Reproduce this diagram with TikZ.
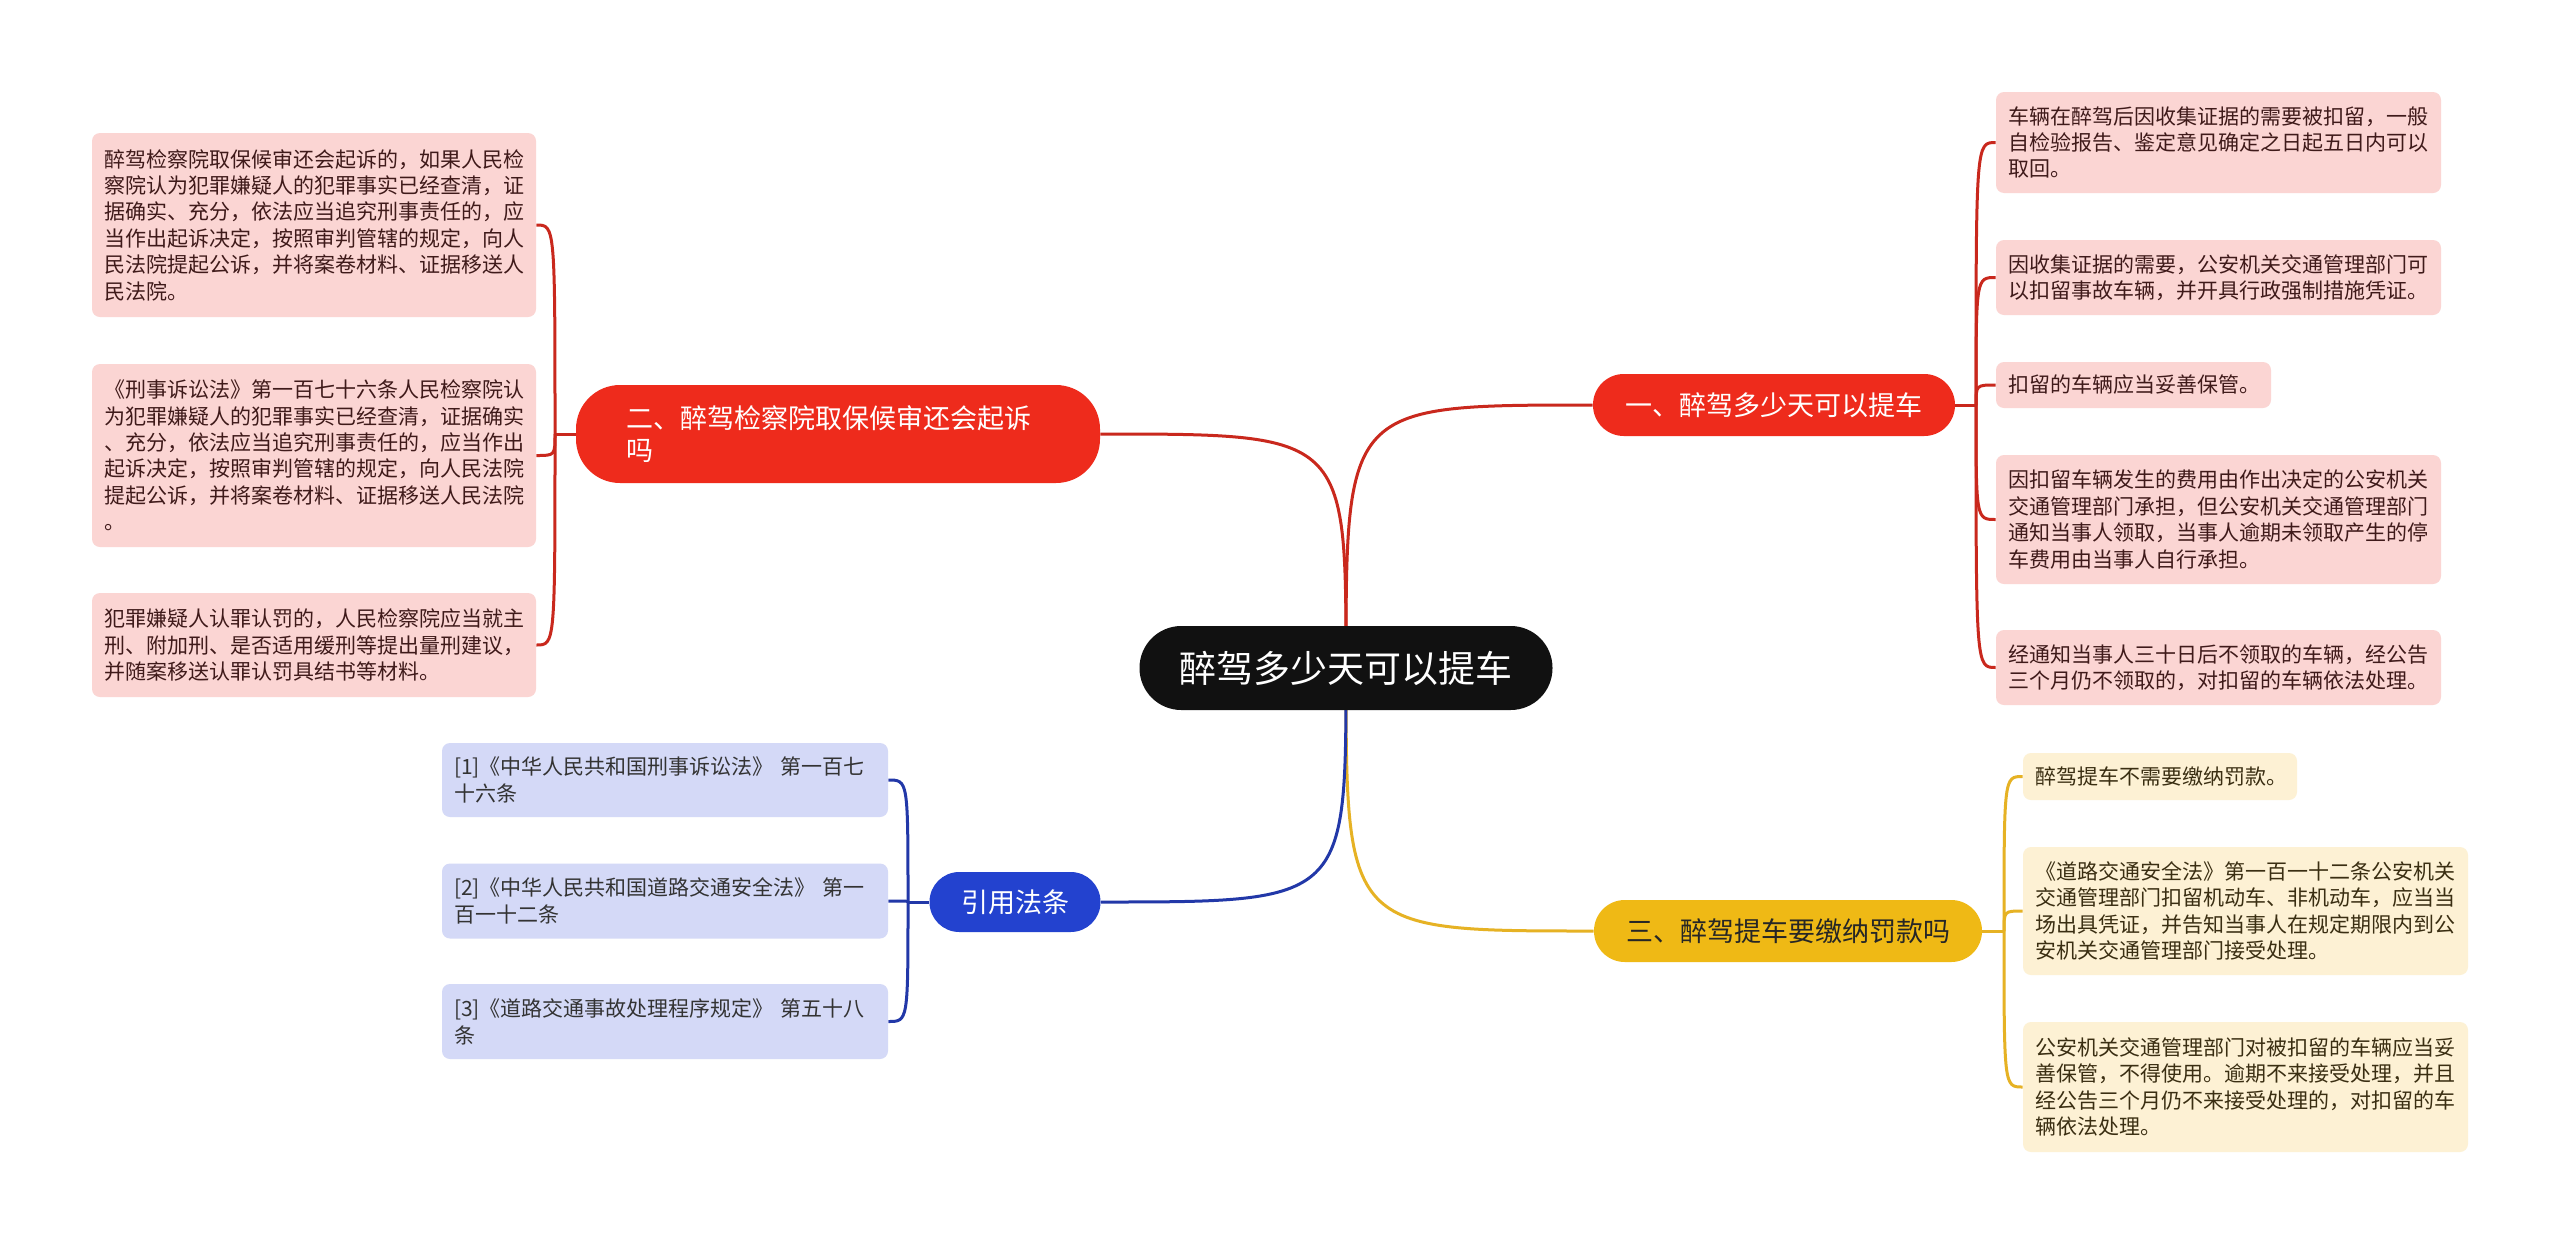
\documentclass[tikz,border=0pt]{standalone}
\usepackage{fontspec}
\setmainfont{Noto Sans CJK SC}
\usetikzlibrary{backgrounds}
\definecolor{rootF}{HTML}{111111}
\definecolor{redN}{HTML}{EE2B1C}
\definecolor{redL}{HTML}{C9281D}
\definecolor{redLeaf}{HTML}{FBD5D3}
\definecolor{redTxt}{HTML}{3F1A1A}
\definecolor{yelN}{HTML}{EFB915}
\definecolor{yelL}{HTML}{E6B224}
\definecolor{yelLeaf}{HTML}{FDF1D4}
\definecolor{yelTxt}{HTML}{3A2E12}
\definecolor{bluN}{HTML}{2342CF}
\definecolor{bluL}{HTML}{2238A8}
\definecolor{bluLeaf}{HTML}{D4D9F7}
\definecolor{bluTxt}{HTML}{333333}
\tikzset{
  rootnode/.style={fill=rootF, text=white, rounded corners=20.9pt, minimum width=206.5pt,
    minimum height=42pt, inner sep=0pt, font=\fontsize{18.5}{22}\selectfont},
  branchnode/.style={rounded corners=15.4pt, minimum height=31pt, inner sep=0pt,
    font=\fontsize{13.5}{16}\selectfont},
  leafbox/.style={rounded corners=4pt, inner xsep=6pt, inner ysep=0pt, align=left,
    font=\fontsize{10.5}{13.2}\selectfont},
  redleaf/.style={leafbox, fill=redLeaf, text=redTxt},
  yelleaf/.style={leafbox, fill=yelLeaf, text=yelTxt},
  bluleaf/.style={leafbox, fill=bluLeaf, text=bluTxt, font=\fontsize{10.5}{13.5}\selectfont},
  redcon/.style={draw=redL, line width=1.5pt},
  yelcon/.style={draw=yelL, line width=1.5pt},
  blucon/.style={draw=bluL, line width=1.5pt},
}
\begin{document}
\begin{tikzpicture}[x=0.5pt,y=-0.5pt]
\useasboundingbox (0,0) rectangle (2560,1243);

% root
\node[rootnode] (root) at (1346,668) {醉驾多少天可以提车};

% branches
\node[branchnode, fill=redN, text=white, minimum width=181pt] (b1) at (1774,405) {一、醉驾多少天可以提车};
\node[branchnode, fill=redN, text=white, rounded corners=22pt, minimum height=49pt,
  inner xsep=25pt, text width=212pt, align=left, font=\fontsize{13.5}{16}\selectfont] (b2) at (838,434)
  {二、醉驾检察院取保候审还会起诉\\吗};
\node[branchnode, fill=yelN, text=black!85, minimum width=194pt] (b3) at (1788,931) {三、醉驾提车要缴纳罚款吗};
\node[branchnode, fill=bluN, text=white, minimum width=85.5pt, minimum height=30pt, rounded corners=14.9pt] (b4) at (1015,902) {引用法条};

% branch 2 leaves (left)
\node[redleaf, text width=210pt, minimum height=92pt] (l1) at (314,225)
 {醉驾检察院取保候审还会起诉的，如果人民检\\察院认为犯罪嫌疑人的犯罪事实已经查清，证\\据确实、充分，依法应当追究刑事责任的，应\\当作出起诉决定，按照审判管辖的规定，向人\\民法院提起公诉，并将案卷材料、证据移送人\\民法院。};
\node[redleaf, text width=210pt, minimum height=91.5pt] (l2) at (314,455.5)
 {《刑事诉讼法》第一百七十六条人民检察院认\\为犯罪嫌疑人的犯罪事实已经查清，证据确实\\、充分，依法应当追究刑事责任的，应当作出\\起诉决定，按照审判管辖的规定，向人民法院\\提起公诉，并将案卷材料、证据移送人民法院\\。};
\node[redleaf, text width=210pt, minimum height=52pt] (l3) at (314,645)
 {犯罪嫌疑人认罪认罚的，人民检察院应当就主\\刑、附加刑、是否适用缓刑等提出量刑建议，\\并随案移送认罪认罚具结书等材料。};

% branch 1 leaves (right)
\node[redleaf, text width=210.5pt, minimum height=50.5pt] (r1) at (2218.5,142.5)
 {车辆在醉驾后因收集证据的需要被扣留，一般\\自检验报告、鉴定意见确定之日起五日内可以\\取回。};
\node[redleaf, text width=210.5pt, minimum height=37.5pt] (r2) at (2218.5,277.5)
 {因收集证据的需要，公安机关交通管理部门可\\以扣留事故车辆，并开具行政强制措施凭证。};
\node[redleaf, text width=125.5pt, minimum height=23pt] (r3) at (2133.5,385)
 {扣留的车辆应当妥善保管。};
\node[redleaf, text width=210.5pt, minimum height=64.5pt] (r4) at (2218.5,519.5)
 {因扣留车辆发生的费用由作出决定的公安机关\\交通管理部门承担，但公安机关交通管理部门\\通知当事人领取，当事人逾期未领取产生的停\\车费用由当事人自行承担。};
\node[redleaf, text width=210.5pt, minimum height=37.5pt] (r5) at (2218.5,667.5)
 {经通知当事人三十日后不领取的车辆，经公告\\三个月仍不领取的，对扣留的车辆依法处理。};

% branch 3 leaves
\node[yelleaf, text width=125pt, minimum height=23.5pt] (y1) at (2160,776.5)
 {醉驾提车不需要缴纳罚款。};
\node[yelleaf, text width=210.5pt, minimum height=64pt] (y2) at (2245.5,911)
 {《道路交通安全法》第一百一十二条公安机关\\交通管理部门扣留机动车、非机动车，应当当\\场出具凭证，并告知当事人在规定期限内到公\\安机关交通管理部门接受处理。};
\node[yelleaf, text width=210.5pt, minimum height=65pt] (y3) at (2245.5,1087)
 {公安机关交通管理部门对被扣留的车辆应当妥\\善保管，不得使用。逾期不来接受处理，并且\\经公告三个月仍不来接受处理的，对扣留的车\\辆依法处理。};

% citations
\node[bluleaf, text width=211pt, minimum height=37pt] (c1) at (665,780)
 {[1]《中华人民共和国刑事诉讼法》~第一百七\\十六条};
\node[bluleaf, text width=211pt, minimum height=37.5pt] (c2) at (665,901)
 {[2]《中华人民共和国道路交通安全法》~第一\\百一十二条};
\node[bluleaf, text width=211pt, minimum height=37.5pt] (c3) at (665,1021.5)
 {[3]《道路交通事故处理程序规定》~第五十八\\条};

% junctions
\coordinate (j1) at (1976,405);
\coordinate (j2) at (555,434);
\coordinate (j3) at (2004,931);
\coordinate (j4) at (908,902);

\begin{scope}[on background layer]
\fill[white] (0,0) rectangle (2560,1243);
\draw[redcon] (root.center) .. controls (root.center |- b1.west) .. (b1.west);
\draw[redcon] (root.center) .. controls (root.center |- b2.east) .. (b2.east);
\draw[yelcon] (root.center) .. controls (root.center |- b3.west) .. (b3.west);
\draw[blucon] (root.center) .. controls (root.center |- b4.east) .. (b4.east);

\draw[redcon] (b1.east) -- (j1);
\foreach \n in {r1,r2,r3,r4,r5}
  \draw[redcon] (j1) .. controls (j1 |- \n.west) .. (\n.west);
\draw[redcon] (b2.west) -- (j2);
\foreach \n in {l1,l2,l3}
  \draw[redcon] (j2) .. controls (j2 |- \n.east) .. (\n.east);
\draw[yelcon] (b3.east) -- (j3);
\foreach \n in {y1,y2,y3}
  \draw[yelcon] (j3) .. controls (j3 |- \n.west) .. (\n.west);
\draw[blucon] (b4.west) -- (j4);
\foreach \n in {c1,c2,c3}
  \draw[blucon] (j4) .. controls (j4 |- \n.east) .. (\n.east);
\end{scope}
\end{tikzpicture}
\end{document}
